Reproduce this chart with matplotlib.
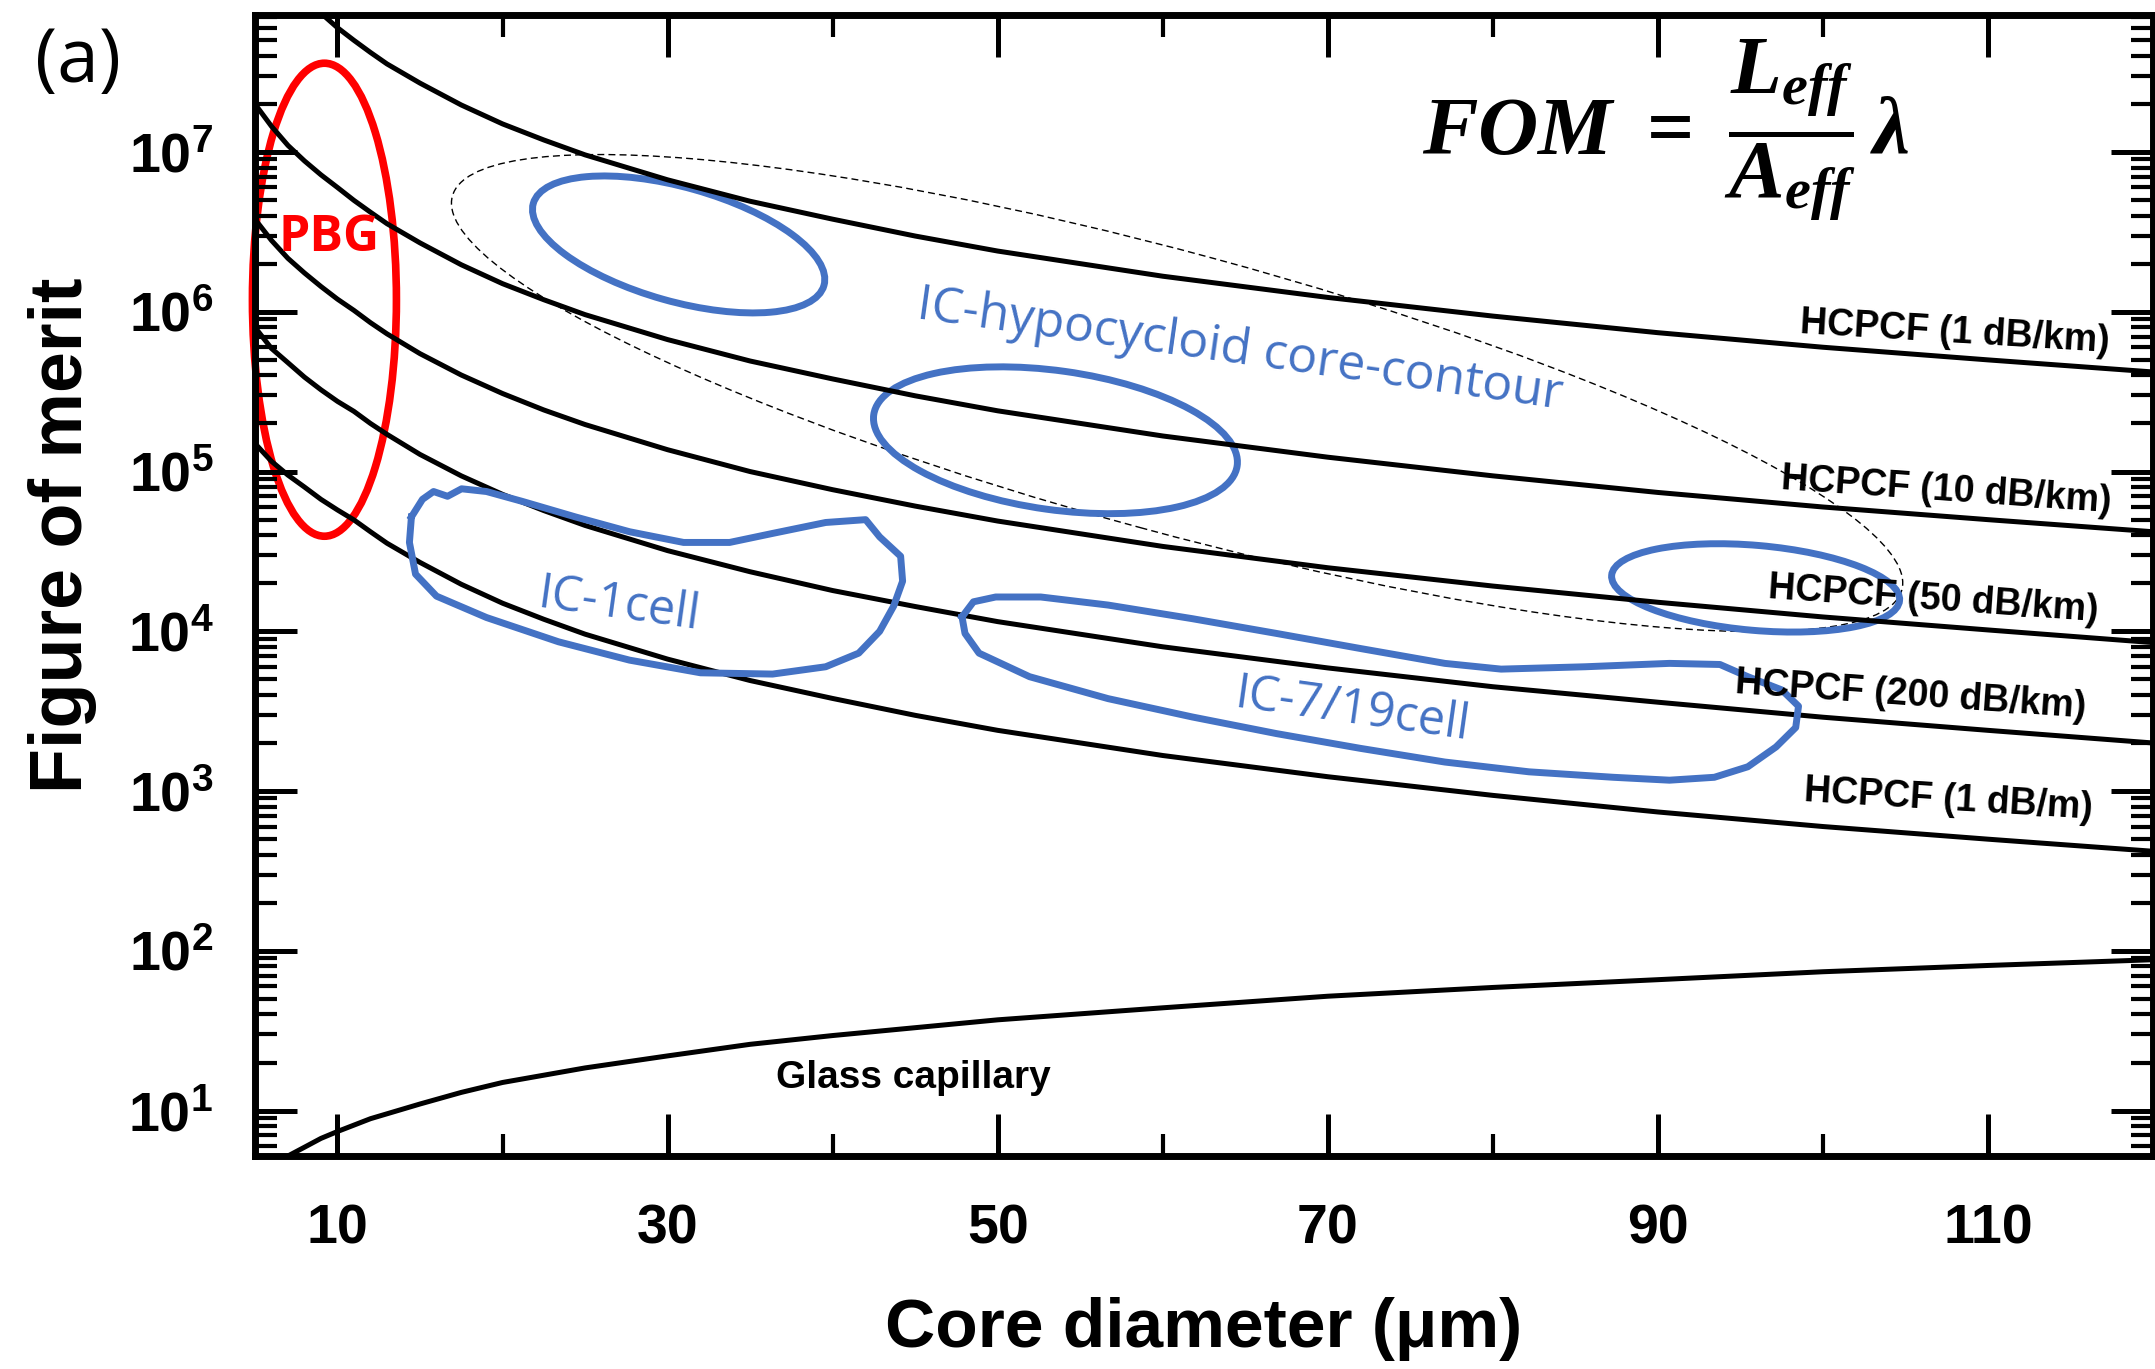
import numpy as np
import matplotlib
matplotlib.use("Agg")
import matplotlib.pyplot as plt
from matplotlib.patches import Ellipse
from matplotlib import transforms
from matplotlib.ticker import FixedLocator, FuncFormatter, NullFormatter

plt.rcParams['font.family'] = ['Liberation Sans', 'DejaVu Sans']
plt.rcParams['mathtext.fontset'] = 'custom'
plt.rcParams['mathtext.rm'] = 'Liberation Serif:bold'
plt.rcParams['mathtext.it'] = 'Liberation Serif:italic:bold'
plt.rcParams['mathtext.bf'] = 'Liberation Sans:bold'

BLUE = '#4472C4'

# core diameter (um) and figure of merit
d_top = [9, 10, 11, 12, 13, 15, 17.5, 20, 22.5, 25, 30, 35, 40, 45, 50,
         60, 70, 80, 90, 100, 110, 120]
fom_1dbkm = [7.4e7, 6.0e7, 5.0e7, 4.2e7, 3.56e7, 2.7e7, 1.97e7, 1.5e7, 1.19e7, 9.6e6, 6.7e6,
             4.92e6, 3.8e6, 2.98e6, 2.4e6, 1.67e6, 1.23e6, 9.4e5, 7.4e5, 6.0e5, 5.0e5, 4.2e5]

d_hc = [5, 6, 7, 8, 9, 10, 11, 12, 13, 15, 17.5, 20, 22.5, 25, 30, 35, 40, 45, 50,
        60, 70, 80, 90, 100, 110, 120]
fom_10dbkm = [2.0e7, 1.45e7, 1.1e7, 8.8e6, 7.2e6, 6.0e6, 4.98e6, 4.2e6, 3.56e6, 2.7e6, 1.97e6,
              1.5e6, 1.19e6, 9.6e5, 6.7e5, 4.92e5, 3.8e5, 2.98e5, 2.4e5, 1.67e5, 1.23e5,
              9.4e4, 7.4e4, 6.0e4, 5.0e4, 4.2e4]
fom_50dbkm = [3.8e6, 2.8e6, 2.16e6, 1.75e6, 1.44e6, 1.2e6, 1.02e6, 8.55e5, 7.28e5, 5.47e5,
              4.02e5, 3.08e5, 2.43e5, 1.97e5, 1.37e5, 1.0e5, 7.7e4, 6.08e4, 4.9e4, 3.4e4,
              2.5e4, 1.92e4, 1.52e4, 1.23e4, 1.02e4, 8.5e3]
fom_200dbkm = [8.0e5, 5.9e5, 4.8e5, 3.9e5, 3.25e5, 2.75e5, 2.38e5, 2.0e5, 1.71e5, 1.28e5,
               9.4e4, 7.2e4, 5.7e4, 4.6e4, 3.2e4, 2.36e4, 1.8e4, 1.43e4, 1.15e4, 8.0e3,
               5.9e3, 4.5e3, 3.6e3, 2.9e3, 2.4e3, 2.0e3]
fom_1dbm = [1.5e5, 1.16e5, 9.5e4, 8.0e4, 6.7e4, 5.75e4, 4.98e4, 4.2e4, 3.56e4, 2.7e4,
            1.97e4, 1.5e4, 1.19e4, 9.6e3, 6.7e3, 4.92e3, 3.8e3, 2.98e3, 2.4e3, 1.67e3,
            1.23e3, 940, 740, 600, 500, 420]

d_glass = [6.5, 7, 8, 9, 10, 12, 15, 17.5, 20, 25, 30, 35, 40, 50, 60, 70, 80, 90, 100, 110, 120]
fom_glass = [4.8, 5.2, 5.9, 6.7, 7.4, 8.9, 11, 13, 15, 18.5, 22, 26, 29.5, 37, 44, 52, 59, 66,
             74, 81, 88]

# hand-drawn regions
ic1_d = [14.48, 15.15, 15.82, 16.67, 17.52, 19.03, 21.21, 24.42, 27.7, 30.97, 33.76, 36.36,
         39.58, 42.0, 42.85, 44.12, 44.24, 43.7, 42.85, 41.58, 39.58, 36.36, 32.0, 27.7,
         23.39, 19.03, 16.0, 14.73, 14.36]
ic1_fom = [5.2e4, 6.7e4, 7.5e4, 7.0e4, 7.8e4, 7.5e4, 6.5e4, 5.2e4, 4.2e4, 3.6e4, 3.6e4, 4.1e4,
           4.8e4, 5.0e4, 3.9e4, 2.95e4, 2.06e4, 1.44e4, 1.0e4, 7.3e3, 6.0e3, 5.4e3, 5.5e3, 6.6e3,
           8.6e3, 1.22e4, 1.66e4, 2.28e4, 3.6e4]

ic719_d = [47.84, 48.53, 49.88, 52.61, 56.69, 61.79, 66.89, 71.99, 77.09, 80.5, 85.59, 90.7,
           93.76, 95.45, 97.5, 98.52, 98.35, 97.16, 95.45, 93.42, 90.7, 87.3, 82.19, 77.09,
           71.99, 66.89, 61.79, 56.69, 51.93, 48.87, 48.02]
ic719_fom = [1.23e4, 1.53e4, 1.64e4, 1.64e4, 1.46e4, 1.2e4, 9.7e3, 7.8e3, 6.3e3, 5.8e3, 6.0e3,
             6.3e3, 6.2e3, 5.2e3, 4.3e3, 3.4e3, 2.5e3, 1.89e3, 1.42e3, 1.22e3, 1.17e3, 1.22e3,
             1.32e3, 1.52e3, 1.85e3, 2.29e3, 2.91e3, 3.79e3, 5.2e3, 7.3e3, 9.7e3]

fig = plt.figure(figsize=(21.55, 13.69), dpi=100)
ax = fig.add_axes([0.1183, 0.1556, 0.8808, 0.8334])

lw = 3.6
ax.plot(d_top, fom_1dbkm, color='black', lw=lw)
ax.plot(d_hc, fom_10dbkm, color='black', lw=lw)
ax.plot(d_hc, fom_50dbkm, color='black', lw=lw)
ax.plot(d_hc, fom_200dbkm, color='black', lw=lw)
ax.plot(d_hc, fom_1dbm, color='black', lw=lw)
ax.plot(d_glass, fom_glass, color='black', lw=lw)

ax.set_yscale('log')
ax.set_xlim(5, 120)
ax.set_ylim(5.2, 7.2e7)


def ring(center, w, h, angle, **kw):
    # ellipse sized in pixels, centred on a data point
    tr = fig.dpi_scale_trans + transforms.ScaledTranslation(center[0], center[1], ax.transData)
    e = Ellipse((0, 0), w / fig.dpi, h / fig.dpi, angle=angle, fill=False, transform=tr, **kw)
    ax.add_patch(e)
    return e


# dashed hypocycloid region
ring((60.87, 3.1e5), 1502, 279, -15.2, edgecolor='black', lw=1.0, linestyle=(0, (5, 3)))
# blue IC regions
ring((30.67, 2.64e6), 302, 114, -15.75, edgecolor=BLUE, lw=5)
ring((53.5, 1.57e5), 367, 139, -8, edgecolor=BLUE, lw=5)
ring((95.92, 1.87e4), 289, 85, -5, edgecolor=BLUE, lw=5)
ax.plot(ic1_d + ic1_d[:1], ic1_fom + ic1_fom[:1], color=BLUE, lw=5, solid_joinstyle='round')
ax.plot(ic719_d + ic719_d[:1], ic719_fom + ic719_fom[:1], color=BLUE, lw=5, solid_joinstyle='round')
# PBG
ring((9.21, 1.19e6), 144, 473, 0, edgecolor='red', lw=5.5, clip_on=False)

# ticks
ax.xaxis.set_major_locator(FixedLocator([10, 30, 50, 70, 90, 110]))
ax.xaxis.set_minor_locator(FixedLocator([20, 40, 60, 80, 100]))
ax.yaxis.set_major_locator(FixedLocator([10.0 ** k for k in range(1, 8)]))
ax.yaxis.set_minor_locator(FixedLocator([m * 10.0 ** k for k in range(0, 8) for m in range(2, 10)]))
ax.yaxis.set_major_formatter(FuncFormatter(lambda v, p: r'$\mathbf{10^{%d}}$' % round(np.log10(v))))
ax.yaxis.set_minor_formatter(NullFormatter())
ax.tick_params(which='both', direction='in', top=True, right=True)
ax.tick_params(which='major', length=30, width=3.6)
ax.tick_params(which='minor', length=16, width=3.0)
ax.tick_params(axis='x', which='major', labelsize=40, pad=34)
ax.tick_params(axis='y', which='major', labelsize=40, pad=30)
for lab in ax.get_xticklabels():
    lab.set_fontweight('bold')
for s in ax.spines.values():
    s.set_linewidth(5)

ax.set_xlabel('Core diameter (\u03bcm)', fontsize=50, fontweight='bold', labelpad=30)
ax.set_ylabel('Figure of merit', fontsize=53, fontweight='bold')
ax.yaxis.set_label_coords(-0.083, 0.544)

# curve labels
lab_kw = dict(fontsize=27, fontweight='bold', ha='center', va='center', rotation_mode='anchor')
ax.text(108.0, 7.4e5, 'HCPCF (1 dB/km)', rotation=-3.5, **lab_kw)
ax.text(107.5, 7.6e4, 'HCPCF (10 dB/km)', rotation=-4, **lab_kw)
ax.text(106.7, 1.57e4, 'HCPCF (50 dB/km)', rotation=-4, **lab_kw)
ax.text(105.3, 4.0e3, 'HCPCF (200 dB/km)', rotation=-4, **lab_kw)
ax.text(107.6, 875, 'HCPCF (1 dB/m)', rotation=-3.5, **lab_kw)
ax.text(44.9, 16.1, 'Glass capillary', fontsize=28, fontweight='bold', ha='center', va='center')

ann_kw = dict(family=['Open Sans', 'DejaVu Sans'], ha='center', va='center', rotation_mode='anchor')
ax.text(9.52, 2.9e6, 'PBG', color='red', fontsize=36, fontweight='bold', **ann_kw)
ax.text(27.0, 1.44e4, 'IC-1cell', color=BLUE, fontsize=35, rotation=-8, **ann_kw)
ax.text(71.45, 3.16e3, 'IC-7/19cell', color=BLUE, fontsize=35, rotation=-8, **ann_kw)
ax.text(64.67, 5.7e5, 'IC-hypocycloid core-contour', color=BLUE, fontsize=36, rotation=-8, **ann_kw)

fig.text(0.0362, 0.9547, '(a)', fontsize=54, family=['Open Sans', 'DejaVu Sans'],
         ha='center', va='center')
fig.text(0.7727, 0.905, r'$FOM\ =\ \dfrac{L_{eff}}{A_{eff}}\,\lambda$', fontsize=60,
         ha='center', va='center')

fig.savefig('out.png', dpi=100)
